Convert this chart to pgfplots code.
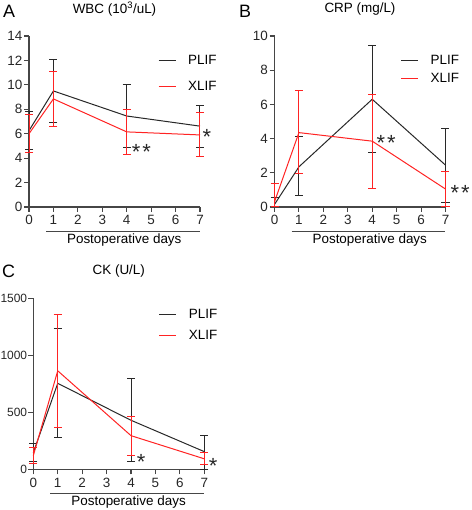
\documentclass[border=0pt]{standalone}
\usepackage{pgfplots}
\pgfplotsset{compat=1.18}
\usepackage{pgfplotstable}
\usepackage{fontspec}
\setmainfont{Liberation Sans}
\definecolor{pblack}{RGB}{40,40,40}
\definecolor{pred}{RGB}{255,35,35}
\definecolor{axgray}{RGB}{70,70,70}

% WBC
\pgfplotstableread{
x y ep em
0 6.25 1.55 1.55
1 9.50 2.60 2.60
4 7.45 2.60 2.60
7 6.62 1.73 1.72
}\aPLIF
\pgfplotstableread{
x y ep em
0 6.00 1.55 1.55
1 8.85 2.23 2.23
4 6.15 1.85 1.85
7 5.90 1.80 1.80
}\aXLIF
% CRP
\pgfplotstableread{
x y ep em
0 0.15 0.43 0.15
1 2.35 1.75 1.67
4 6.30 3.15 3.10
7 2.45 2.15 2.20
}\bPLIF
\pgfplotstableread{
x y ep em
0 0.30 1.06 0.30
1 4.35 2.45 2.40
4 3.85 2.70 2.75
7 1.05 1.00 1.00
}\bXLIF
% CK
\pgfplotstableread{
x y ep em
0 145 80 80
1 754 478 478
4 430 365 365
7 155 145 155
}\cPLIF
\pgfplotstableread{
x y ep em
0 120 68 68
1 864 497 497
4 295 170 170
7 92 53 47
}\cXLIF

\pgfplotsset{
  panel/.style={
    scale only axis, width=171bp, height=171bp,
    axis lines*=left, axis line style={axgray, line width=1.1bp},
    tick align=outside, major tick length=5bp, tick style={axgray, line width=1.1bp},
    xmin=0, xmax=7, xtick={0,...,7}, ymin=0,
    clip=false, scaled y ticks=false,
    ticklabel style={font=\fontsize{13.5}{16}\selectfont, text=black!85},
    yticklabel style={inner sep=1.5bp},
    /pgf/number format/assume math mode=true,
    /pgf/number format/1000 sep={},
    legend cell align=left,
    legend style={draw=none, fill=none, inner sep=0pt, outer sep=0pt, anchor=north west,
       font=\fontsize{13.5}{16}\selectfont, nodes={inner sep=0pt}, column sep=12bp},
    title style={at={(0.5,1)}, anchor=center, yshift=21bp, font=\fontsize{13.5}{16}\selectfont},
  },
  plif/.style={forget plot, pblack, line width=1bp, error bars/.cd, y dir=both, y explicit, error mark=-,
     error bar style={line width=1bp, pblack}, error mark options={rotate=90, pblack, line width=1bp, mark size=4bp}},
  xlif/.style={forget plot, pred, line width=1bp, error bars/.cd, y dir=both, y explicit, error mark=-,
     error bar style={line width=1bp, pred}, error mark options={rotate=90, pred, line width=1bp, mark size=4bp}},
}
\pgfplotsset{legend image code/.code={\draw[#1] (0bp,0bp) -- (17bp,0bp);}}
\tikzset{sig/.style={font=\fontsize{22}{22}\selectfont, anchor=base west, inner sep=0pt, yshift=-12.5bp, text=pblack}}
\newcommand{\deco}{%
  \draw[axgray, line width=1.1bp] ([yshift=-24.5bp]axis cs:0.7,0) -- ([yshift=-24.5bp]axis cs:7,0);
  \node[font=\fontsize{13.5}{16}\selectfont, anchor=center] at ([yshift=-33bp]axis cs:3.9,0) {Postoperative days};
}
\newcommand{\leg}{%
  \addlegendimage{pblack, line width=1bp}\addlegendentry{PLIF}
  \addlegendimage{pred, line width=1bp}\addlegendentry{XLIF}
}

\begin{document}
\begin{tikzpicture}
\useasboundingbox (0,0) rectangle (472bp,510bp);

% Panel A
\begin{axis}[panel, at={(29bp,303bp)}, anchor=south west, ymax=14, ytick={0,2,...,14},
  title={WBC (10\textsuperscript{3}/uL)},
  legend style={at={(0.755,0.888)}, row sep=15bp}]
\leg
\addplot[plif] table[x=x, y=y, y error plus=ep, y error minus=em] {\aPLIF};
\addplot[xlif] table[x=x, y=y, y error plus=ep, y error minus=em] {\aXLIF};
\deco
\node[sig] at (axis cs:4.2,4.94) {*\kern2bp*};
\node[sig] at (axis cs:7.1,6.17) {*};
\end{axis}

% Panel B
\begin{axis}[panel, at={(274.5bp,303bp)}, anchor=south west, ymax=10, ytick={0,2,...,10},
  title={CRP (mg/L)},
  legend style={at={(0.738,0.888)}, row sep=7bp}]
\leg
\addplot[plif] table[x=x, y=y, y error plus=ep, y error minus=em] {\bPLIF};
\addplot[xlif] table[x=x, y=y, y error plus=ep, y error minus=em] {\bXLIF};
\deco
\node[sig] at (axis cs:4.17,4.05) {*\kern2bp*};
\node[sig] at (axis cs:7.2,1.1) {*\kern2bp*};
\end{axis}

% Panel C
\begin{axis}[panel, at={(33.3bp,40.7bp)}, anchor=south west, ymax=1500, ytick={0,500,1000,1500},
  yticklabel style={font=\fontsize{12}{14}\selectfont, inner sep=1bp},
  title={CK (U/L)},
  legend style={at={(0.735,0.937)}, row sep=10bp}]
\leg
\addplot[plif] table[x=x, y=y, y error plus=ep, y error minus=em] {\cPLIF};
\addplot[xlif] table[x=x, y=y, y error plus=ep, y error minus=em] {\cXLIF};
\deco
\node[sig] at (axis cs:4.23,110) {*};
\node[sig] at (axis cs:7.18,72) {*};
\end{axis}

\node[font=\fontsize{18}{18}\selectfont, anchor=base west, inner sep=0pt] at (3bp,492bp) {A};
\node[font=\fontsize{18}{18}\selectfont, anchor=base west, inner sep=0pt] at (239bp,492bp) {B};
\node[font=\fontsize{18}{18}\selectfont, anchor=base west, inner sep=0pt] at (2bp,232bp) {C};
\end{tikzpicture}
\end{document}
